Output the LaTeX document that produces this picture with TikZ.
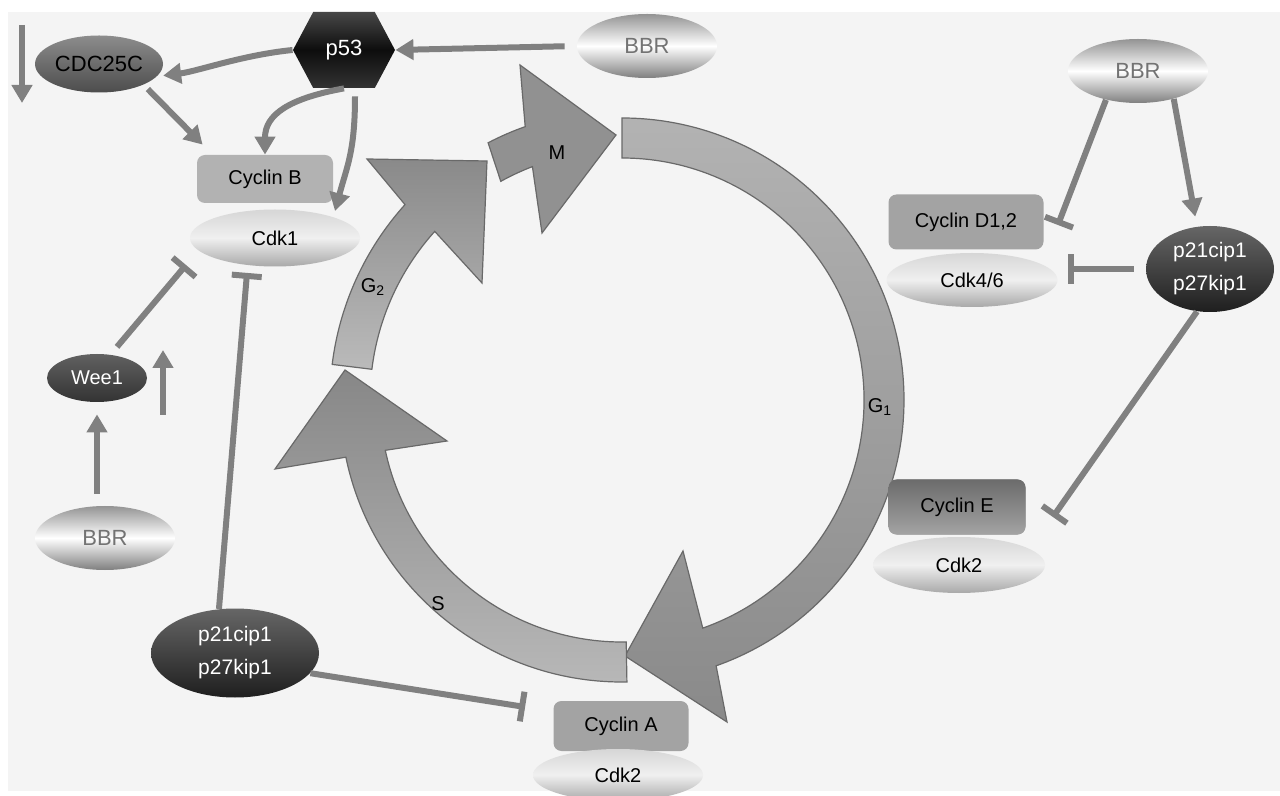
\documentclass[tikz,border=0pt]{standalone}
\usepackage{fontspec}
\setmainfont{Liberation Sans}
\usetikzlibrary{shapes.geometric,shapes.symbols,arrows.meta,calc}

\definecolor{linkgray}{RGB}{128,128,128}
\definecolor{bggray}{RGB}{244,244,244}
\definecolor{edgegray}{RGB}{105,105,105}

\tikzset{
  link/.style={line width=3pt, draw=linkgray},
  act/.style={link, -{Triangle[width=10pt,length=9pt]}},
  inh/.style={link, -{Bar[width=15pt]}},
  phase/.style={draw=edgegray, line width=0.6pt, line join=miter},
  bbr/.style={ellipse, inner sep=0pt, minimum width=70pt, minimum height=32pt,
    text=black!55, font=\fontsize{11}{13}\selectfont,
    top color=black!42, bottom color=black!50, middle color=white},
  cyclin/.style={rectangle, rounded corners=4pt, inner sep=0pt, fill=black!36},
  cdk/.style={ellipse, inner sep=0pt,
    top color=black!16, bottom color=black!34, middle color=black!6},
  darkell/.style={ellipse, inner sep=0pt, text=white, align=center,
    top color=black!60, bottom color=black!88},
  twoline/.style={font=\fontsize{10.5}{16.5}\selectfont}
}

\begin{document}
\begin{tikzpicture}[x=0.5pt, y=-0.5pt, font=\fontsize{10}{12}\selectfont]
\useasboundingbox (0,0) rectangle (1280,796);
\fill[white] (0,0) rectangle (1280,796);
\fill[bggray] (8,12) rectangle (1280,791);

% the cycle
\begin{scope}[shift={(622,400)}]
\draw[phase, top color=black!30, bottom color=black!46]
  (270:282) arc[start angle=270, end angle=430.5, radius=282]
  -- (105,322) -- (3,256) -- (61,151)
  -- (70.5:242) arc[start angle=70.5, end angle=-90, radius=242] -- cycle;
\draw[phase, top color=black!47, bottom color=black!28]
  (89:282) arc[start angle=89, end angle=168.3, radius=282]
  -- (-347,69) -- (-277,-30) -- (-175,41)
  -- (168:242) arc[start angle=168, end angle=89, radius=242] -- cycle;
\draw[phase, top color=black!46, bottom color=black!27]
  (187:292) arc[start angle=187, end angle=222, radius=292]
  -- (-255,-241) -- (-135,-239) -- (-140,-117)
  -- (222:252) arc[start angle=222, end angle=187, radius=252] -- cycle;
\draw[phase, fill=black!43]
  (242.5:290) arc[start angle=242.5, end angle=250.5, radius=290]
  -- (-102,-335) -- (-6,-265) -- (-80,-167)
  -- (249:250) arc[start angle=249, end angle=241, radius=250] -- cycle;
\end{scope}
\node (lblM) at (557,153) {M};
\node (lblGtwo) at (373,287) {G\textsubscript{2}};
\node (lblGone) at (880,407) {G\textsubscript{1}};
\node (lblS) at (438,604) {S};

% nodes
\node[signal, signal to=west and east, signal pointer angle=124,
  minimum width=51pt, minimum height=38pt, inner sep=0pt, text=white,
  font=\fontsize{11}{13}\selectfont,
  top color=black!72, bottom color=black!80, middle color=black!95] (p53) at (344,50) {p53};
\node[bbr] (bbrT) at (647,46) {BBR};
\node[bbr] (bbrR) at (1138,71) {BBR};
\node[bbr] (bbrL) at (105,538) {BBR};
\node[ellipse, inner sep=0pt, minimum width=64pt, minimum height=28.5pt,
  font=\fontsize{11}{13}\selectfont,
  top color=black!45, bottom color=black!70] (cdc) at (99,64) {CDC25C};
\node[cyclin, fill=black!30, minimum width=68pt, minimum height=24pt] (cycB) at (265,179) {Cyclin B};
\node[cdk, minimum width=85pt, minimum height=28.5pt] (cdk1) at (275,238) {Cdk1};
\node[darkell, minimum width=50pt, minimum height=24pt,
  top color=black!62, bottom color=black!80] (wee1) at (97,378) {Wee1};
\node[darkell, twoline, minimum width=84pt, minimum height=44.5pt] (p21L) at (235,653) {p21cip1\\p27kip1};
\node[cyclin, minimum width=67.5pt, minimum height=25pt] (cycA) at (621,726) {Cyclin A};
\node[cdk, minimum width=85pt, minimum height=26pt] (cdkA) at (618,775) {Cdk2};
\node[cyclin, minimum width=77.5pt, minimum height=27.5pt] (cycD) at (966,222) {Cyclin D1,2};
\node[cdk, minimum width=85.5pt, minimum height=27pt] (cdk46) at (972,280) {Cdk4/6};
\node[darkell, twoline, minimum width=64pt, minimum height=43pt] (p21R) at (1210,269) {p21cip1\\p27kip1};
\node[cyclin, top color=black!58, bottom color=black!36,
  minimum width=68.5pt, minimum height=27.5pt] (cycE) at (957,507) {Cyclin E};
\node[cdk, minimum width=86pt, minimum height=28pt] (cdkE) at (959,565) {Cdk2};

% free arrows
\coordinate (downA) at (22,25);
\coordinate (downB) at (22,103);
\coordinate (upA) at (163,415);
\coordinate (upB) at (163,350);
\draw[act] (downA) -- (downB);
\draw[act] (upA) -- (upB);

% links
\draw[act, shorten <=6pt] (bbrT.west) -- (p53.east);
\draw[act, shorten >=3pt] (p53.west) .. controls +(-50,5) and +(40,-5) .. (cdc.-12);
\draw[act, shorten <=3pt] (cdc.-25) -- ($(cycB.north west)+(6,-10)$);
\draw[act] (p53.south) .. controls +(-55,10) and +(0,-40) .. (cycB.north);
\draw[act] ($(p53.south)+(11,8)$) .. controls +(0,55) and +(12,-45) .. ($(cdk1)+(60,-27)$);
\draw[inh, shorten <=5pt] (wee1.60) -- ($(cdk1)+(-89,27)$);
\draw[act, shorten <=6pt, shorten >=6pt] (wee1.south |- bbrL.north) -- (wee1.south);
\draw[inh] (p21L.110) -- ($(cdk1.south)+(-28,6)$);
\draw[inh] (p21L.-15) -- ($(cycA.west)+(-28,-19)$);
\draw[act, shorten >=5pt] (bbrR.-38) -- (p21R.107);
\draw[inh] (bbrR.-138) -- ($(cycD.east)+(14,3)$);
\draw[inh, shorten <=6pt, shorten >=5pt] (p21R.west) -- (p21R.west -| cdk46.east);
\draw[inh] (p21R.-107) -- ($(cycE.east)+(27,10)$);
\end{tikzpicture}
\end{document}
